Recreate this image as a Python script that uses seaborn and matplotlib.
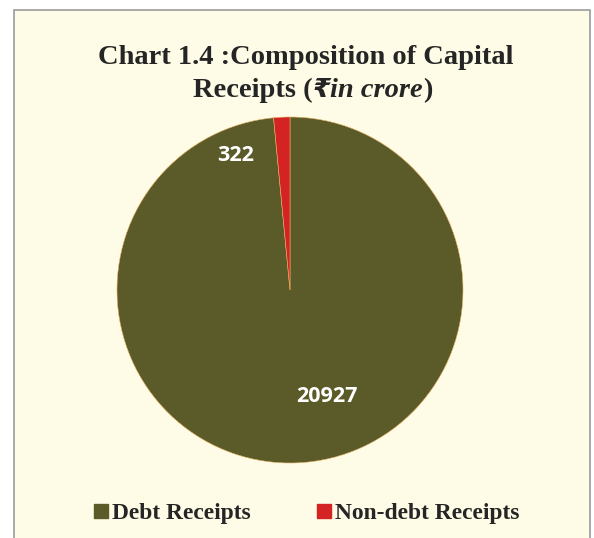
import matplotlib
matplotlib.use("Agg")
from matplotlib import pyplot as plt
from matplotlib.patches import Rectangle
from matplotlib.lines import Line2D
import seaborn as sb

categories = ["Debt Receipts", "Non-debt Receipts"]
values = [20927, 322]
colors = ["#5b5a29", "#d42323"]

sb.set_theme(style="white")
plt.rcParams['font.family'] = ['Liberation Serif', 'DejaVu Serif', 'DejaVu Sans']

W, H = 594, 538
fig = plt.figure(figsize=(W / 100, H / 100), dpi=100)
fig.patch.set_facecolor("white")

# cream panel with grey border
fig.patches.append(Rectangle((14/W, -0.01), (590-14)/W, (H-10)/H + 0.01,
                             transform=fig.transFigure, facecolor="#fefce6",
                             edgecolor="#9b9b9b", linewidth=1.2, zorder=-10))

ax = fig.add_axes([117/W, (H-463)/H, 346/W, 346/H])
ax.set_facecolor("none")
wedges, _ = ax.pie(values, colors=colors, startangle=90, counterclock=False,
                   wedgeprops=dict(linewidth=0.4, edgecolor="#e9b060"))
ax.set_xlim(-1, 1)
ax.set_ylim(-1, 1)
ax.set_aspect("equal")

# data labels
lab_pos = {"Debt Receipts": (0.214, -0.613), "Non-debt Receipts": (-0.312, 0.78)}
for cat, val in zip(categories, values):
    x, y = lab_pos[cat]
    ax.text(x, y, str(val), color="white", fontsize=15.5, fontweight="bold",
            family=["Open Sans", "DejaVu Sans"], ha="center", va="center")

# title
tc = "#252525"
fs = 20.5
fig.text(306/W, 1 - 64.5/H, "Chart 1.4 :Composition of Capital", ha="center",
         va="baseline", fontsize=fs, fontweight="bold", color=tc)
t1 = fig.text(193/W, 1 - 96.7/H, "Receipts (", ha="left", va="baseline",
              fontsize=fs, fontweight="bold", color=tc)
a1 = ax.annotate("₹", xy=(1, 0), xycoords=t1, va="bottom", ha="left",
                 fontsize=fs - 2, fontweight="bold", style="italic", color=tc,
                 family=["DejaVu Sans"], annotation_clip=False)
a2 = ax.annotate("in crore", xy=(1, 0), xycoords=(a1, t1), va="bottom", ha="left",
                 fontsize=fs, fontweight="bold", style="italic", color=tc,
                 annotation_clip=False)
ax.annotate(")", xy=(1, 0), xycoords=(a2, t1), va="bottom", ha="left",
            fontsize=fs, fontweight="bold", color=tc, annotation_clip=False)

# legend
handles = [Line2D([0], [0], marker="s", linestyle="", markersize=9.4,
                  markerfacecolor=c, markeredgecolor=c) for c in colors]
fig.legend(handles, categories, loc="center", bbox_to_anchor=(303/W, 1 - 513/H),
           ncol=2, frameon=False, columnspacing=2.5, handletextpad=-0.12,
           handlelength=1.2, prop=dict(family="Liberation Serif", weight="bold", size=16.9),
           labelcolor=tc)

plt.savefig("out.png", dpi=100)
